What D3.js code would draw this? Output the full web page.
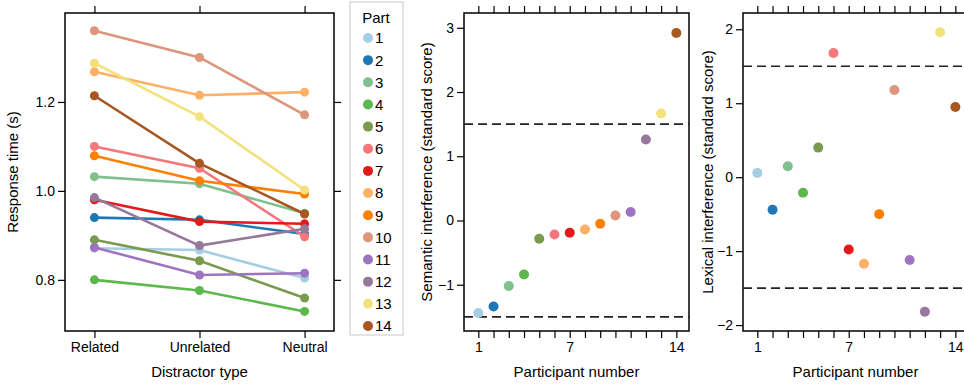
<!DOCTYPE html>
<html>
<head>
<meta charset="utf-8">
<script src="https://cdn.jsdelivr.net/npm/d3@7"></script>
<style>
  body { margin: 0; background: #fff; }
  svg { font-family: Arial, "Liberation Sans", sans-serif; }
  .axis text { font-size: 14px; fill: #000; }
  .axis line { stroke: #000; stroke-width: 1.2; }
  .axis path { display: none; }
</style>
</head>
<body>
<svg width="964" height="384"></svg>
<script>
var parts = [1, 2, 3, 4, 5, 6, 7, 8, 9, 10, 11, 12, 13, 14];
var colors = ["#a6cee3", "#1f78b4", "#7fc08e", "#5cb84c", "#7a9a4f", "#f4777c", "#e31a1c",
              "#fdb066", "#ff7f00", "#dc967b", "#9e74c1", "#96789a", "#f3e27c", "#a85721"];
var conditions = ["Related", "Unrelated", "Neutral"];
var related   = [0.871, 0.940, 1.032, 0.800, 0.890, 1.100, 0.980, 1.268, 1.079, 1.360, 0.873, 0.985, 1.287, 1.214];
var unrelated = [0.867, 0.935, 1.016, 0.776, 0.843, 1.051, 0.931, 1.215, 1.023, 1.300, 0.811, 0.877, 1.167, 1.062];
var neutral   = [0.804, 0.903, 0.950, 0.729, 0.759, 0.897, 0.926, 1.222, 0.993, 1.171, 0.815, 0.915, 1.002, 0.948];
var semantic  = [-1.44, -1.34, -1.02, -0.84, -0.285, -0.217, -0.19, -0.14, -0.05, 0.077, 0.133, 1.26, 1.666, 2.92];
var lexical   = [0.058, -0.44, 0.148, -0.21, 0.40, 1.68, -0.978, -1.17, -0.50, 1.18, -1.12, -1.82, 1.96, 0.95];
var rtTicks = [0.8, 1.0, 1.2];
var semTicks = [-1, 0, 1, 2, 3];
var lexTicks = [-2, -1, 0, 1, 2];
var partLabels = [1, 7, 14];
var cutoff = 1.5;

var svg = d3.select("svg");
var top0 = 13, bottom0 = 331;

function frame(g, w, h) {
  g.append("rect").attr("width", w).attr("height", h)
    .attr("fill", "none").attr("stroke", "#000").attr("stroke-width", 1.5);
}

// ---- Panel 1: response times
var p1 = {left: 65, width: 269};
var g1 = svg.append("g").attr("transform", "translate(" + p1.left + "," + top0 + ")");
var h = bottom0 - top0;
var x1 = d3.scalePoint().domain(conditions).range([0, p1.width]).padding(0.28);
var y1 = d3.scaleLinear().domain([0.685, 1.4]).range([h, 0]);

g1.append("g").attr("class", "axis").call(d3.axisLeft(y1).tickValues(rtTicks).tickFormat(d3.format(".1f")).tickSize(7).tickPadding(3));
g1.append("g").attr("class", "axis").attr("transform", "translate(" + p1.width + ",0)")
  .call(d3.axisRight(y1).tickValues(rtTicks).tickFormat("").tickSize(7));
g1.append("g").attr("class", "axis").call(d3.axisTop(x1).tickFormat("").tickSize(7));
g1.append("g").attr("class", "axis").attr("transform", "translate(0," + h + ")")
  .call(d3.axisBottom(x1).tickSize(7).tickPadding(4));
frame(g1, p1.width, h);

var rtData = parts.map(function(p, i) {
  return {part: p, color: colors[i], values: [related[i], unrelated[i], neutral[i]]};
});
var line = d3.line().x(function(d, j) { return x1(conditions[j]); }).y(function(d) { return y1(d); });
var series = g1.selectAll(".series").data(rtData).enter().append("g");
series.append("path").attr("d", function(d) { return line(d.values); })
  .attr("fill", "none").attr("stroke", function(d) { return d.color; }).attr("stroke-width", 2.6);
series.selectAll("circle").data(function(d) { return d.values.map(function(v, j) { return {v: v, j: j, c: d.color}; }); })
  .enter().append("circle")
  .attr("cx", function(d) { return x1(conditions[d.j]); })
  .attr("cy", function(d) { return y1(d.v); })
  .attr("r", 4.5).attr("fill", function(d) { return d.c; });

g1.append("text").attr("transform", "rotate(-90)").attr("x", -h / 2).attr("y", -47)
  .attr("text-anchor", "middle").attr("font-size", 15).text("Response time (s)");
g1.append("text").attr("x", p1.width / 2).attr("y", h + 46)
  .attr("text-anchor", "middle").attr("font-size", 15).text("Distractor type");

// ---- Legend
var leg = svg.append("g").attr("transform", "translate(350,2)");
leg.append("rect").attr("width", 53).attr("height", 333).attr("fill", "#fff")
  .attr("stroke", "#c8c8c8").attr("stroke-width", 1);
leg.append("text").attr("x", 26).attr("y", 21).attr("text-anchor", "middle").attr("font-size", 15).text("Part");
var items = leg.selectAll(".item").data(parts).enter().append("g")
  .attr("transform", function(d, i) { return "translate(0," + (36 + i * 22.15) + ")"; });
items.append("circle").attr("cx", 18).attr("r", 5).attr("fill", function(d, i) { return colors[i]; });
items.append("text").attr("x", 25).attr("dy", "0.36em").attr("font-size", 15).text(function(d) { return d; });

// ---- Scatter panels
function scatter(left, width, yDomain, ticks, values, label, titleX) {
  var g = svg.append("g").attr("transform", "translate(" + left + "," + top0 + ")");
  var x = d3.scaleLinear().domain([0.06, 14.83]).range([0, width]);
  var y = d3.scaleLinear().domain(yDomain).range([h, 0]);
  g.append("g").attr("class", "axis").call(d3.axisLeft(y).tickValues(ticks).tickFormat(d3.format("d")).tickSize(7).tickPadding(3));
  g.append("g").attr("class", "axis").call(d3.axisTop(x).tickValues(parts).tickFormat("").tickSize(7));
  g.append("g").attr("class", "axis").attr("transform", "translate(0," + h + ")")
    .call(d3.axisBottom(x).tickValues(parts).tickSize(7).tickPadding(4)
      .tickFormat(function(d) { return partLabels.indexOf(d) >= 0 ? d : ""; }));
  frame(g, width, h);
  g.selectAll(".cut").data([cutoff, -cutoff]).enter().append("line")
    .attr("x1", 0).attr("x2", width)
    .attr("y1", function(d) { return y(d); }).attr("y2", function(d) { return y(d); })
    .attr("stroke", "#222").attr("stroke-width", 1.6).attr("stroke-dasharray", "9,5");
  g.selectAll(".dot").data(values).enter().append("circle")
    .attr("cx", function(d, i) { return x(parts[i]); })
    .attr("cy", function(d) { return y(d); })
    .attr("r", 5).attr("fill", function(d, i) { return colors[i]; });
  g.append("text").attr("transform", "rotate(-90)").attr("x", -h / 2).attr("y", titleX)
    .attr("text-anchor", "middle").attr("font-size", 15).text(label);
  g.append("text").attr("x", width / 2).attr("y", h + 46)
    .attr("text-anchor", "middle").attr("font-size", 15).text("Participant number");
}
scatter(464, 225, [-1.72, 3.23], semTicks, semantic, "Semantic interference (standard score)", -32);
scatter(743, 225, [-2.08, 2.22], lexTicks, lexical, "Lexical interference (standard score)", -30);
</script>
</body>
</html>
